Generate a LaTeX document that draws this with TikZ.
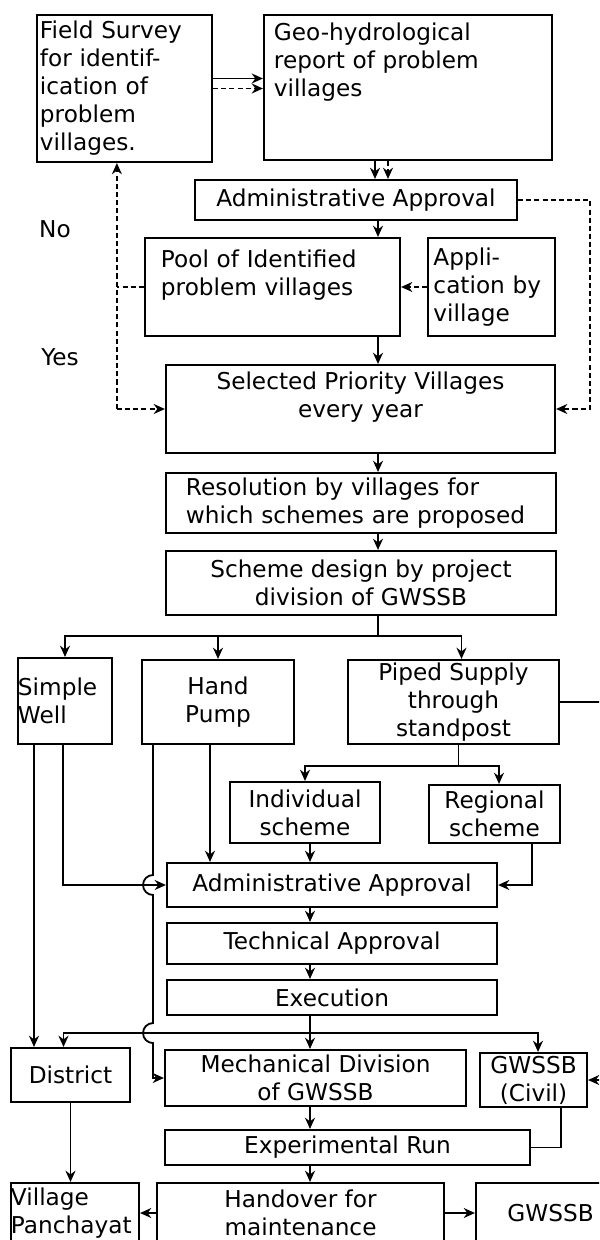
\documentclass[tikz,border=0pt]{standalone}
\usepackage{fontspec}
\setmainfont{DejaVu Sans}
\usepackage{tikz}
\usetikzlibrary{arrows.meta, calc}
\tikzset{
  box/.style={rectangle, draw=black, line width=1.5pt, inner sep=0pt,
    font=\fontsize{16.5}{19.9}\selectfont},
  lbox/.style={box, align=left},
  cbox/.style={box, align=center},
  lbl/.style={font=\fontsize{16.5}{19.9}\selectfont, inner sep=0pt},
  arr/.style={-{Stealth[length=2.8mm, width=2.5mm]}, line width=1.3pt},
  darr/.style={arr, dash pattern=on 3.6pt off 2.2pt},
  dline/.style={line width=1.3pt, dash pattern=on 3.6pt off 2.2pt},
  line/.style={line width=1.3pt}
}
\begin{document}
\begin{tikzpicture}[x=0.025cm, y=-0.025cm]
  \useasboundingbox (0,0) rectangle (599,1240);
  \clip (0,0) rectangle (599,1240);
  \coordinate (col1) at (378,0);
  \coordinate (col2) at (310,0);
  % Survey and report
  \node[lbox, minimum width=4.375cm, minimum height=3.675cm, text width=4.225cm] (survey) at (124.5,88.5)
    {Field Survey\\for identif-\\ication of\\problem\\villages.};
  \node[lbox, minimum width=7.2cm, minimum height=3.625cm, text width=6.7cm] (geo) at (408,87.5)
    {Geo-hydrological\\report of problem\\villages\\~\\~};
  \node[cbox, minimum width=8.05cm, minimum height=1.0cm] (appr1) at (356,200) {Administrative Approval};
  % Pool and selection
  \node[lbox, minimum width=6.375cm, minimum height=2.45cm, text width=5.575cm] (pool) at (272.5,287)
    {Pool of Identified\\problem villages\\~};
  \node[lbox, minimum width=3.175cm, minimum height=2.45cm, text width=2.9cm] (appl) at (491.5,287)
    {Appli-\\cation by\\village};
  \node[lbl] (no) at (55,229) {No};
  \node[lbl] (yes) at (60,357) {Yes};
  \node[cbox, minimum width=9.725cm, minimum height=2.2cm] (select) at (360.5,409)
    {Selected Priority Villages\\every year\\~};
  \node[lbox, minimum width=9.75cm, minimum height=1.5cm, text width=8.75cm] (resol) at (361,503)
    {Resolution by villages for\\which schemes are proposed};
  \node[cbox, minimum width=9.75cm, minimum height=1.6cm] (scheme) at (361,583)
    {Scheme design by project\\division of GWSSB};
  % Kinds of supply
  \node[lbox, minimum width=2.35cm, minimum height=2.15cm, text width=2.35cm] (well) at (65,701) {Simple\\Well};
  \node[cbox, minimum width=3.8cm, minimum height=2.1cm] (pump) at (218,702) {Hand\\Pump};
  \node[cbox, minimum width=5.275cm, minimum height=2.1cm] (piped) at (453.5,702)
    {Piped Supply\\through\\standpost};
  \node[cbox, minimum width=3.75cm, minimum height=1.525cm] (indiv) at (305,812.5) {Individual\\scheme};
  \node[cbox, minimum width=3.275cm, minimum height=1.45cm] (regio) at (494.5,814) {Regional\\scheme};
  % Approvals and execution
  \node[cbox, minimum width=8.25cm, minimum height=1.1cm] (appr2) at (332,885) {Administrative Approval};
  \node[cbox, minimum width=8.25cm, minimum height=1.025cm] (tech) at (332,943.5) {Technical Approval};
  \node[cbox, minimum width=8.25cm, minimum height=0.875cm] (exec) at (332,997.5) {Execution};
  \node[cbox, minimum width=2.975cm, minimum height=1.35cm] (distr) at (70.5,1075) {District};
  \node[cbox, minimum width=7.525cm, minimum height=1.4cm] (mech) at (315.5,1078)
    {Mechanical Division\\of GWSSB};
  \node[cbox, minimum width=2.675cm, minimum height=1.35cm] (civil) at (533.5,1080) {GWSSB\\(Civil)};
  \node[cbox, minimum width=9.125cm, minimum height=0.875cm] (exper) at (347.5,1147.5) {Experimental Run};
  % Handover
  \node[lbox, minimum width=3.2cm, minimum height=1.5cm, text width=3.2cm] (vp) at (75,1213) {Village\\Panchayat};
  \node[cbox, minimum width=7.175cm, minimum height=1.5cm] (hand) at (300.5,1213) {Handover for\\maintenance};
  \node[cbox, minimum width=3.725cm, minimum height=1.5cm] (gw) at (550.5,1213) {GWSSB};

  % Top connectors
  \draw[arr] ($(survey.east)+(0,-10)$) coordinate (s1) -- (s1 -| geo.west);
  \draw[darr] (survey.east) -- (survey.east -| geo.west);
  \draw[arr] ($(geo.south)+(-33,0)$) coordinate (g1) -- (g1 |- appr1.north);
  \draw[darr] ($(geo.south)+(-20,0)$) coordinate (g2) -- (g2 |- appr1.north);
  \draw[arr] (appr1.south -| col1) -- (pool.north -| col1);
  \draw[darr] (appr1.east) -| ($(select.east)+(34,0)$) -- (select.east);
  \draw[darr] (appl.west) -- (pool.east);
  \coordinate (lft) at ($(select.west)+(-48,0)$);
  \draw[dline] (pool.west) -- (pool.west -| lft);
  \draw[darr] (lft) -- (select.west);
  \draw[darr] (lft) -- (lft |- survey.south);
  % Main column
  \draw[arr] (pool.south -| col1) -- (select.north -| col1);
  \draw[arr] (select.south -| col1) -- (resol.north -| col1);
  \draw[arr] (resol.south -| col1) -- (scheme.north -| col1);
  \draw[line] (scheme.south -| col1) -- ++(0,20) coordinate (b1);
  \draw[arr] (b1) -| (well.north);
  \draw[arr] (b1) -| (pump.north);
  \draw[arr] (b1) -| ($(piped.north)+(8,0)$);
  % Piped supply
  \draw[line] (piped.south) ++(5,0) -- ++(0,21) coordinate (b2);
  \draw[arr] (b2) -| (indiv.north);
  \draw[arr] (b2) -| ($(regio.north)+(4.5,0)$);
  \draw[arr] (piped.east) -- ++(46,0) |- (civil.east);
  % Well and pump lines
  \coordinate (b3) at ($(exec.south -| col2)+(0,17)$);
  \draw[arr] ($(well.south)+(-31,0)$) coordinate (w1) -- (w1 |- distr.north);
  \draw[arr] ($(well.south)+(-2,0)$) |- (appr2.west);
  \draw[arr] ($(pump.south)+(-8,0)$) coordinate (p2) -- (p2 |- appr2.north);
  \draw[arr] ($(pump.south)+(-65,0)$) coordinate (p1)
    -- ($(p1 |- appr2.west)+(0,-10)$) arc[start angle=270, end angle=90, radius=10]
    -- ($(p1 |- b3)+(0,-10)$) arc[start angle=270, end angle=90, radius=10]
    |- (mech.west);
  \draw[arr] (indiv.south -| col2) -- (appr2.north -| col2);
  \draw[arr] ($(regio.south)+(37.5,0)$) |- (appr2.east);
  % Approval chain
  \draw[arr] (appr2.south -| col2) -- (tech.north -| col2);
  \draw[arr] (tech.south -| col2) -- (exec.north -| col2);
  \draw[arr] (exec.south -| col2) -- (mech.north -| col2);
  \draw[arr] (b3) -| ($(distr.north)+(-7,0)$);
  \draw[arr] (b3) -| ($(civil.north)+(4.5,0)$);
  % Lower part
  \draw[arr] (mech.south -| col2) -- (exper.north -| col2);
  \draw[line] ($(civil.south)+(27.5,0)$) |- (exper.east);
  \draw[arr] (exper.south -| col2) -- (hand.north -| col2);
  \draw[arr] (distr.south) -- (distr.south |- vp.north);
  \draw[arr] (hand.west) -- (vp.east);
  \draw[arr] (hand.east) -- (gw.west);
\end{tikzpicture}
\end{document}
